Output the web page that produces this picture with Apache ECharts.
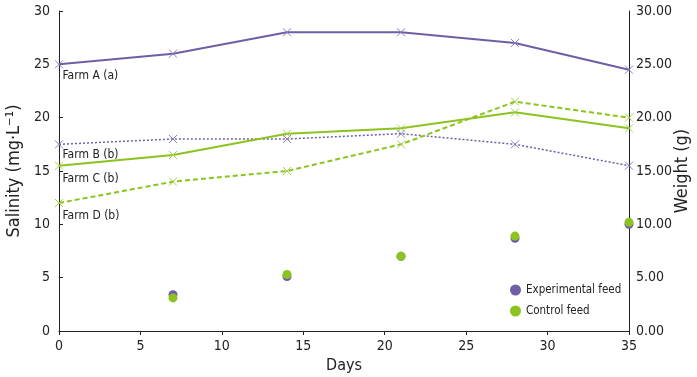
<!DOCTYPE html>
<html>
<head>
<meta charset="utf-8">
<script src="https://cdn.jsdelivr.net/npm/echarts@6/dist/echarts.min.js"></script>
<style>
  html, body { margin: 0; padding: 0; background: #fff; }
  #chart { width: 697px; height: 377px; }
</style>
</head>
<body>
<div id="chart"></div>
<script>
// days of sampling
const days = [0, 7, 14, 21, 28, 35]
// salinity (mg·L-1)
const farmA = [25, 26, 28, 28, 27, 24.5]
const farmB = [17.5, 18, 18, 18.5, 17.5, 15.5]
const farmC = [15.5, 16.5, 18.5, 19, 20.5, 19]
const farmD = [12, 14, 15, 17.5, 21.5, 20]
const farmNames = ['Farm A (a)', 'Farm B (b)', 'Farm C (b)', 'Farm D (b)']
// weight (g)
const feedDays = [7, 14, 21, 28, 35]
const experimentalFeed = [3.4, 5.1, 7.0, 8.7, 10.0]
const controlFeed = [3.1, 5.3, 7.0, 8.9, 10.2]

const purple = '#6f5ea6'
const green = '#8cc31f'
const font = 'DejaVu Sans Condensed, sans-serif'
const cross = 'path://M0,0L10,10M10,0L0,10'

function farmSeries(name, values, color, markColor, lineType, width, dy) {
  return {
    name: name,
    type: 'line',
    yAxisIndex: 0,
    symbol: cross,
    symbolSize: 8,
    itemStyle: { color: 'rgba(0,0,0,0)', borderColor: markColor, borderWidth: 1 },
    lineStyle: { color: color, width: width, type: lineType },
    data: days.map((d, i) => {
      const item = { value: [d, values[i]] }
      if (i === 0) {
        item.label = {
          show: true,
          formatter: name,
          position: [8, dy],
          color: '#222',
          fontSize: 12,
          fontFamily: font
        }
      }
      return item
    }),
    z: 3
  }
}

const chart = echarts.init(document.getElementById('chart'))
chart.setOption({
  animation: false,
  textStyle: { fontFamily: font },
  grid: { left: 59, right: 68, top: 11, bottom: 46, containLabel: false, outerBoundsMode: 'none' },
  legend: {
    orient: 'vertical',
    left: 505,
    top: 279,
    itemWidth: 11,
    itemHeight: 11,
    itemGap: 9,
    icon: 'circle',
    textStyle: { fontSize: 11.5, color: '#222', fontFamily: font },
    data: ['Experimental feed', 'Control feed']
  },
  xAxis: {
    type: 'value',
    min: 0,
    max: 35,
    interval: 5,
    name: 'Days',
    nameLocation: 'middle',
    nameGap: 26,
    nameTextStyle: { fontSize: 16, color: '#222' },
    axisLine: { lineStyle: { color: '#222', width: 1 } },
    axisTick: { length: 4, lineStyle: { color: '#222' } },
    axisLabel: { fontSize: 14, color: '#222', margin: 8 },
    splitLine: { show: false }
  },
  yAxis: [
    {
      type: 'value',
      min: 0,
      max: 30,
      interval: 5,
      name: 'Salinity (mg·L⁻¹)',
      nameLocation: 'middle',
      nameRotate: 90,
      nameGap: 36,
      nameMoveOverlap: false,
      nameTextStyle: { fontSize: 18, color: '#222' },
      axisLine: { show: true, lineStyle: { color: '#222', width: 1 } },
      axisTick: { show: true, inside: true, length: 4, lineStyle: { color: '#222' } },
      axisLabel: { fontSize: 14, color: '#222', margin: 9 },
      splitLine: { show: false }
    },
    {
      type: 'value',
      position: 'right',
      min: 0,
      max: 30,
      interval: 5,
      name: 'Weight (g)',
      nameLocation: 'middle',
      nameRotate: 90,
      nameGap: 44,
      nameMoveOverlap: false,
      nameTextStyle: { fontSize: 18, color: '#222' },
      axisLine: { show: true, lineStyle: { color: '#222', width: 1 } },
      axisTick: { show: false },
      axisLabel: { fontSize: 14, color: '#222', margin: 7, formatter: v => v.toFixed(2) },
      splitLine: { show: false }
    }
  ],
  series: [
    farmSeries(farmNames[0], farmA, purple, '#8a7dba', 'solid', 2, 10),
    farmSeries(farmNames[1], farmB, purple, '#8a7dba', [2, 2], 1.5, 9),
    farmSeries(farmNames[2], farmC, green, '#a3cf4a', 'solid', 2, 12),
    farmSeries(farmNames[3], farmD, green, '#a3cf4a', [5, 3], 2, 11),
    {
      name: 'Experimental feed',
      type: 'scatter',
      yAxisIndex: 1,
      symbolSize: 9,
      itemStyle: { color: purple, opacity: 1 },
      data: feedDays.map((d, i) => [d, experimentalFeed[i]])
    },
    {
      name: 'Control feed',
      type: 'scatter',
      yAxisIndex: 1,
      symbolSize: 9,
      itemStyle: { color: green, opacity: 1 },
      data: feedDays.map((d, i) => [d, controlFeed[i]])
    }
  ]
})
</script>
</body>
</html>
